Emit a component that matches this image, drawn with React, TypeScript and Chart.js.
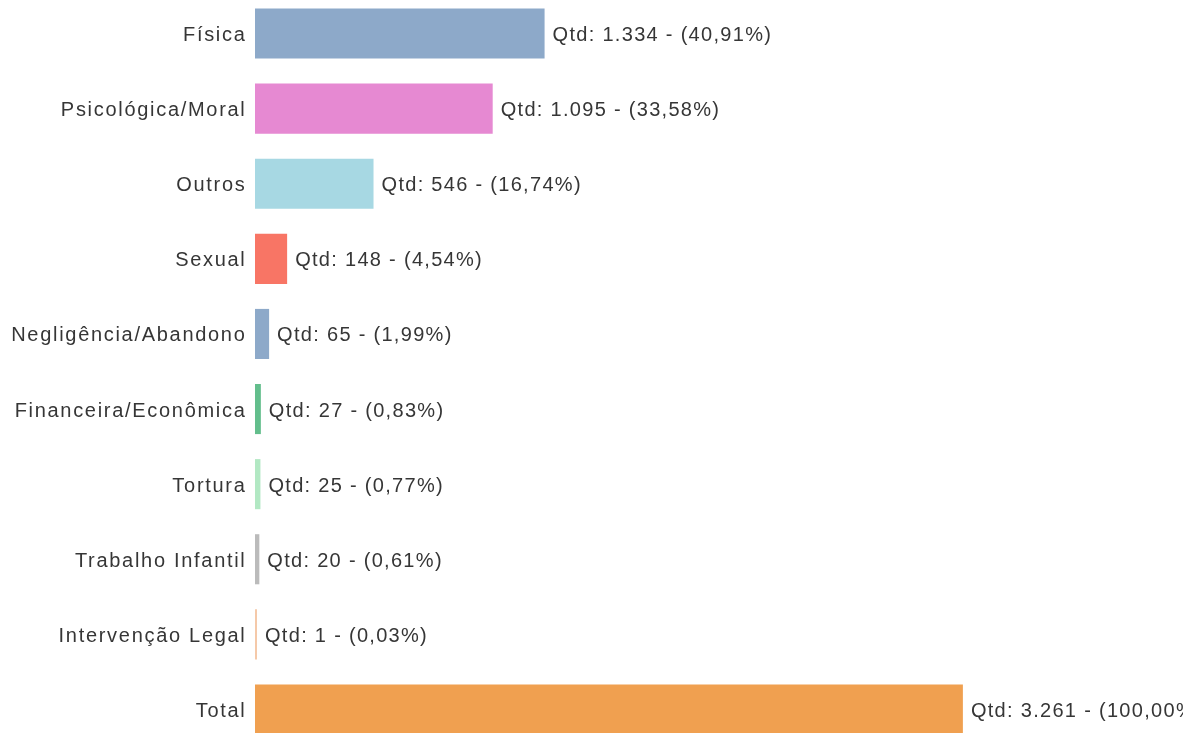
import React, { useEffect, useRef } from "react";
import { Chart, registerables } from "chart.js";

Chart.register(...registerables);

const categories = [
  "Física",
  "Psicológica/Moral",
  "Outros",
  "Sexual",
  "Negligência/Abandono",
  "Financeira/Econômica",
  "Tortura",
  "Trabalho Infantil",
  "Intervenção Legal",
  "Total",
];

const quantities = [1334, 1095, 546, 148, 65, 27, 25, 20, 1, 3261];

const barColors = [
  "#8DA9C9",
  "#E689D2",
  "#A7D8E3",
  "#F87565",
  "#8DA9C9",
  "#63BE8C",
  "#B2E8C3",
  "#BBBBBB",
  "#F5C9A9",
  "#F0A050",
];

const xMax = 4275;
const FONT_FAMILY = "'Liberation Sans', Arial, sans-serif";
const FONT_SIZE = 20;
const TICK_SPACING = "1.7px";
const VALUE_SPACING = "1.3px";
const TEXT_COLOR = "#363636";

function fmtThousands(n: number): string {
  return String(n).replace(/\B(?=(\d{3})+(?!\d))/g, ".");
}

function labelFor(i: number): string {
  const total = quantities[quantities.length - 1];
  const pct = ((quantities[i] / total) * 100).toFixed(2).replace(".", ",");
  return `Qtd: ${fmtThousands(quantities[i])} - (${pct}%)`;
}

const spacingPlugin = {
  id: "letterSpacing",
  beforeDraw(chart: any) {
    (chart.ctx as any).letterSpacing = TICK_SPACING;
  },
};

const valueLabelPlugin = {
  id: "valueLabels",
  afterDatasetsDraw(chart: any) {
    const ctx = chart.ctx;
    const meta = chart.getDatasetMeta(0);
    ctx.save();
    (ctx as any).letterSpacing = VALUE_SPACING;
    ctx.font = `${FONT_SIZE}px ${FONT_FAMILY}`;
    ctx.fillStyle = TEXT_COLOR;
    ctx.textAlign = "left";
    ctx.textBaseline = "middle";
    meta.data.forEach((bar: any, i: number) => {
      ctx.fillText(labelFor(i), bar.x + 8, bar.y + 2);
    });
    ctx.restore();
  },
};

export default function App() {
  const canvasRef = useRef<HTMLCanvasElement | null>(null);

  useEffect(() => {
    if (!canvasRef.current) return;
    const chart = new Chart(canvasRef.current, {
      type: "bar",
      data: {
        labels: categories,
        datasets: [
          {
            data: quantities,
            backgroundColor: barColors,
            borderWidth: 0,
            barPercentage: 0.667,
            categoryPercentage: 1,
            minBarLength: 2,
          },
        ],
      },
      options: {
        indexAxis: "y",
        animation: false,
        responsive: true,
        maintainAspectRatio: false,
        layout: { padding: 0 },
        plugins: {
          legend: { display: false },
          tooltip: { enabled: false },
        },
        scales: {
          x: {
            display: false,
            min: 0,
            max: xMax,
          },
          y: {
            grid: { display: false, drawTicks: false },
            border: { display: false },
            ticks: {
              padding: 8.5,
              labelOffset: 2,
              color: TEXT_COLOR,
              font: { family: FONT_FAMILY, size: FONT_SIZE },
            },
            afterFit(scale: any) {
              scale.width = 255;
              scale.paddingTop = 0;
              scale.paddingBottom = 0;
            },
          },
        },
      },
      plugins: [spacingPlugin, valueLabelPlugin],
    });
    return () => chart.destroy();
  }, []);

  return (
    <div
      style={{
        position: "fixed",
        left: 0,
        top: 0,
        width: 1183,
        height: 733,
        overflow: "hidden",
        background: "#fff",
      }}
    >
      <div
        style={{
          position: "absolute",
          left: 0,
          top: -4,
          width: 1183,
          height: 751,
        }}
      >
        <canvas ref={canvasRef} />
      </div>
    </div>
  );
}
